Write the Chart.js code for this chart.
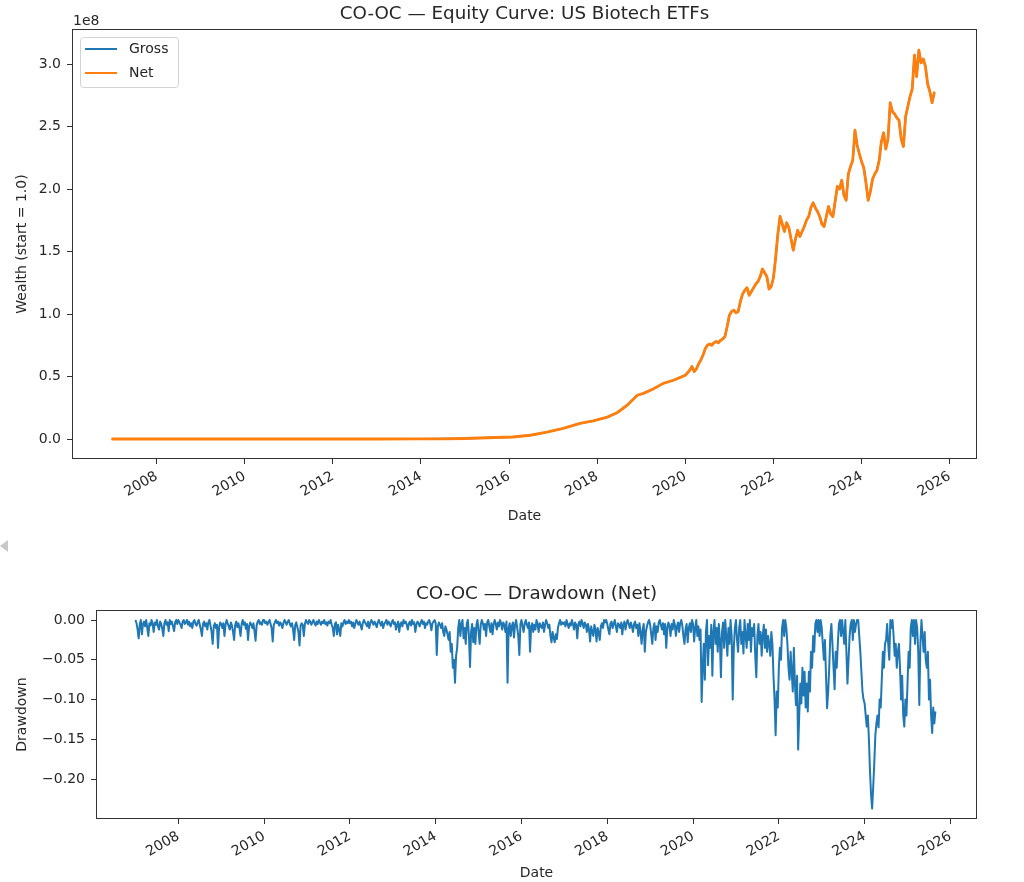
<!DOCTYPE html>
<html><head><meta charset="utf-8">
<script src="https://cdn.jsdelivr.net/npm/chart.js@4"></script>
<style>
html,body{margin:0;padding:0;background:#fff;width:1024px;height:882px;overflow:hidden;}
#c1{position:absolute;left:0;top:0;width:1024px;height:540px;}
#c2{position:absolute;left:0;top:540px;width:1024px;height:342px;}
#tri{position:absolute;left:0;top:540px;width:0;height:0;border-top:6px solid transparent;border-bottom:6px solid transparent;border-right:8px solid #c8c8c8;z-index:5;}
</style></head>
<body>
<canvas id="c1" width="1024" height="540"></canvas>
<canvas id="c2" width="1024" height="342"></canvas>
<div id="tri"></div>
<script>
// ---------- data ----------
const yearTicks = [2008, 2010, 2012, 2014, 2016, 2018, 2020, 2022, 2024, 2026];
const wealthTicks = [0, 0.5e8, 1.0e8, 1.5e8, 2.0e8, 2.5e8, 3.0e8];
const drawdownTicks = [0, -0.05, -0.10, -0.15, -0.20];

// equity curve, early part (irregular dates, decimal years)
const equityEarlyDates = [2007.00, 2008.0, 2009.0, 2010.0, 2011.0, 2012.0, 2013.0, 2014.0, 2014.5, 2015.0,
  2015.34, 2015.7, 2016.09, 2016.48, 2016.86, 2017.23, 2017.61, 2017.91, 2018.23, 2018.45,
  2018.68, 2018.91, 2019.05, 2019.27, 2019.5, 2019.73, 2019.9];
const netWealthEarly = [1, 4, 20, 100, 500, 2500, 1.2e4, 6e4, 1.5e5, 4e5,
  8e5, 1.2e6, 1.6e6, 3.0e6, 5.5e6, 8.5e6, 1.25e7, 1.45e7, 1.75e7, 2.1e7,
  2.7e7, 3.5e7, 3.65e7, 4.0e7, 4.45e7, 4.7e7, 4.95e7];
// equity curve, late part: one value every 0.05 year from 2020.00
const equityLateStart = 2020.0, equityLateStep = 0.05;
const netWealthLate = [
  0.51e8, 0.53e8, 0.55e8, 0.58e8, 0.54e8, 0.56e8, 0.60e8, 0.63e8, 0.67e8, 0.72e8,
  0.75e8, 0.76e8, 0.75e8, 0.77e8, 0.78e8, 0.77e8, 0.79e8, 0.80e8, 0.82e8, 0.90e8,
  0.99e8, 1.02e8, 1.03e8, 1.01e8, 1.02e8, 1.10e8, 1.16e8, 1.19e8, 1.21e8, 1.15e8,
  1.18e8, 1.21e8, 1.24e8, 1.26e8, 1.30e8, 1.36e8, 1.33e8, 1.30e8, 1.20e8, 1.22e8,
  1.29e8, 1.45e8, 1.64e8, 1.78e8, 1.72e8, 1.66e8, 1.73e8, 1.69e8, 1.60e8, 1.51e8,
  1.60e8, 1.67e8, 1.62e8, 1.66e8, 1.70e8, 1.75e8, 1.78e8, 1.85e8, 1.89e8, 1.85e8,
  1.82e8, 1.78e8, 1.72e8, 1.70e8, 1.78e8, 1.86e8, 1.80e8, 1.78e8, 1.90e8, 2.02e8,
  2.00e8, 2.07e8, 1.95e8, 1.91e8, 2.12e8, 2.18e8, 2.23e8, 2.47e8, 2.35e8, 2.28e8,
  2.22e8, 2.17e8, 2.05e8, 1.91e8, 1.98e8, 2.08e8, 2.12e8, 2.15e8, 2.23e8, 2.38e8,
  2.45e8, 2.32e8, 2.40e8, 2.69e8, 2.62e8, 2.60e8, 2.57e8, 2.55e8, 2.40e8, 2.34e8,
  2.58e8, 2.66e8, 2.74e8, 2.80e8, 3.07e8, 2.90e8, 3.11e8, 3.01e8, 3.04e8, 2.98e8,
  2.84e8, 2.78e8, 2.69e8, 2.77e8];

const equityDates = equityEarlyDates.concat(
  netWealthLate.map((_, i) => +(equityLateStart + i * equityLateStep).toFixed(3)));
const netWealth = netWealthEarly.concat(netWealthLate);
// gross curve lies underneath and is indistinguishable from net in the picture
const grossWealth = netWealth.slice();

// drawdown (net) in percent, one value every 0.025 year starting 2007.000
const ddStart = 2007.0, ddStep = 0.025;
const dd2007 = [0,-0.4,-1.2,-2.3,-0.6,0,-1.8,-0.5,-0.2,-0.8, 0,-1.0,-2.0,-0.4,-0.7,0,-0.5,-1.5,-0.3,-0.6, 0,-0.8,-1.2,-0.2,-0.5,-1.1,-2.0,-0.4,0,-0.6, -0.3,-1.4,0,-0.5,-0.2,-0.8,-1.4,-0.3,0,-0.5];
const dd2008 = [0,-0.3,-0.6,-1.0,-0.2,0,-0.5,-0.3,0,-0.6, -0.2,-0.8,-0.4,-1.0,-0.2,0,-0.5,-0.7,-0.3,0, -0.6,-1.2,-2.0,-0.5,-0.2,-0.8,-0.4,-1.2,-0.3,0, -0.7,-1.5,-3.0,-0.8,-0.4,-1.0,-0.6,-3.5,-0.9,-0.3];
const dd2009 = [-0.5,-1.0,-0.4,-2.0,-0.6,0,-0.4,-0.8,-1.2,-0.3, -0.7,-1.5,-2.5,-0.6,-0.2,-0.9,-0.4,-1.0,-2.0,-0.5, 0,-0.6,-0.3,-1.1,-0.5,-2.5,-0.8,-0.3,-0.6,-1.0, -0.4,-1.4,-2.6,-0.7,-0.2,0,-0.5,-0.3,-0.6,0];
const dd2010 = [0,-0.4,-0.2,-0.6,-0.3,0,-0.5,-1.0,-2.7,-0.6, -0.3,0,-0.4,-0.2,-0.7,-0.3,-0.5,-1.0,-0.4,0, -0.3,-0.6,-0.2,0,-0.5,-0.8,-0.4,-1.2,-2.5,-0.6, -0.3,-0.9,-1.5,-3.2,-0.7,-0.4,-0.6,-2.0,-0.5,0];
const dd2011 = [-0.3,-0.5,0,-0.2,-0.6,-0.3,0,-0.4,-0.7,-0.2, -0.5,0,-0.3,-0.6,-0.2,-0.4,0,-0.5,-0.3,-0.7, -0.2,-0.4,0,-0.6,-1.0,-2.0,-0.5,-0.3,-1.8,-0.6, -1.2,-2.0,-0.4,-0.8,-0.3,0,-0.5,-0.2,-0.4,0];
const dd2012 = [-0.4,-0.2,-0.8,-0.3,-1.0,-0.5,0,-0.3,-0.6,-0.2, -0.7,-1.2,-0.4,0,-0.3,-0.5,-0.8,-0.2,-1.0,-0.4, 0,-0.3,-0.6,-0.2,-0.5,-0.9,-0.3,0,-0.4,-0.7, -0.2,-1.0,-0.5,-0.3,0,-0.6,-0.2,-0.4,-0.8,-0.3];
const dd2013 = [0,-0.5,-0.3,-1.2,-0.6,-0.2,-1.5,-0.5,-0.3,-0.8, 0,-0.4,-0.2,-0.6,-1.2,-0.4,-0.2,-0.7,0,-0.5, -0.3,-1.5,-0.6,-0.2,-0.4,-0.8,-0.3,0,-0.5,-0.2, -1.0,-0.4,-0.6,-0.2,0,-0.5,-1.3,-0.4,-0.2,0];
const dd2014 = [-0.4,-4.4,-0.8,-0.3,-0.6,-1.0,-0.4,-1.5,-2.0,-0.8, -1.2,-1.8,-2.5,-1.5,-4.0,-3.0,-6.0,-5.0,-7.9,-4.5, -3.5,-1.0,0,-2.0,-0.5,0,-2.3,-1.0,-3.0,-0.4, 0,-2.0,-5.9,-1.5,-0.5,-2.8,-1.0,-3.0,-0.6,0];
const dd2015 = [-1.5,-3.0,-0.6,0,-0.4,-1.2,-0.5,-2.0,-0.3,0, -0.8,-1.5,-0.4,-1.8,-0.6,0,-0.5,-1.2,-0.3,-0.8, 0,-0.4,-1.2,-0.3,-0.6,-1.5,-0.2,-7.9,-1.0,-0.4, -2.0,-0.8,-0.3,-2.2,-0.6,0,-1.0,-2.0,-4.4,-0.5];
const dd2016 = [0,-0.8,-1.5,-0.4,0,-0.6,-1.0,-0.3,-4.0,-0.8, -0.4,-1.5,-0.6,-1.2,0,-0.5,-1.5,-0.4,-0.8,-1.0, -0.3,-1.5,-0.6,0,-0.4,-1.0,-0.6,-2.0,-2.8,-1.5, -2.2,-2.8,-1.8,-2.4,-1.0,-0.4,0,-0.6,-0.3,-0.5];
const dd2017 = [-0.3,-0.8,0,-0.5,-1.0,-0.4,-0.7,0,-0.5,-1.2, -0.3,-0.6,-2.3,-0.5,-0.2,-0.8,0,-0.4,-1.0,-0.3, -0.6,-1.5,-0.5,-1.2,-2.7,-0.8,-1.5,-2.0,-0.6,-1.2, -2.7,-1.0,-1.6,-2.5,-0.8,-0.4,-1.0,0,-0.3,0];
const dd2018 = [-0.5,-1.2,-1.8,-0.4,-0.2,-1.0,-0.5,0,-0.8,-1.5, -0.4,-0.6,-1.0,-0.3,-1.8,-0.6,-0.2,-1.2,-0.4,0, -0.5,-1.0,-0.3,-0.8,-1.5,-0.5,-0.2,-1.0,-0.6,-2.0, -0.4,-1.5,-3.0,-1.2,-0.5,-4.0,-1.5,-0.8,-0.3,0];
const dd2019 = [-0.6,-1.8,-3.0,-1.0,-0.4,-2.5,-0.8,-1.5,-0.3,0, -0.6,-1.2,-0.4,-1.8,-0.5,-3.5,-1.0,-0.3,-0.8,-2.0, -0.5,-1.2,0,-0.6,-2.0,-0.8,-0.3,-1.5,-0.4,0, -0.7,-2.0,-3.0,-1.2,-0.5,-2.8,-1.0,-0.4,-1.5,0];
const dd2020 = [-0.5,-2.7,-1.0,0,-2.0,-0.8,-2.5,-1.2,-10.3,-6.0, -3.0,-7.5,-1.5,0,-5.7,-2.0,-3.5,-0.6,-7.0,-1.5, 0,-3.0,-1.0,-4.0,-0.5,-2.5,-7.2,-1.5,-0.3,-3.5, 0,-2.0,-4.5,-1.0,-3.0,0,-2.0,-10.0,-3.5,-1.0];
const dd2021 = [0,-2.5,-4.0,-1.0,0,-3.0,-1.5,-4.2,0,-2.0, -3.5,-0.5,-2.5,0,-4.0,-1.0,-2.0,-0.5,-4.5,-7.2, -2.0,-0.5,-3.0,-1.5,-4.5,-2.0,-0.6,-3.5,-1.2,-4.0, -2.0,-3.0,-4.5,-1.5,-3.0,-7.0,-10.0,-14.5,-9.0,-11.0];
const dd2022 = [-6.0,-3.5,-5.0,-1.0,0,-2.0,0,-1.0,-3.0,-6.0, -7.5,-4.0,-6.5,-9.0,-3.5,-8.0,-10.7,-7.0,-16.3,-12.0, -8.0,-10.5,-6.0,-9.5,-6.5,-11.0,-8.0,-11.5,-6.5,-9.0, -4.0,-6.0,-2.0,-4.0,-0.5,0,-1.5,0,-2.0,0];
const dd2023 = [-1.0,-3.0,-5.0,-2.5,-7.0,-11.1,-9.0,-6.0,-2.0,-0.5, -3.0,-6.0,-8.7,-4.0,-6.0,-3.0,-0.5,0,-2.0,0, -1.5,-3.0,0,-4.0,-8.0,-5.0,-2.0,-0.5,0,-2.5, 0,-1.5,-0.5,0,0,-2.0,-4.0,-6.5,-9.0,-10.0];
const dd2024 = [-10.5,-12.0,-13.4,-12.0,-15.0,-19.0,-22.0,-23.7,-21.0,-18.0, -14.5,-13.0,-12.0,-13.5,-10.0,-11.0,-7.5,-4.0,-6.0,-3.0, -2.5,-0.5,-3.0,-5.0,0,-1.0,0,-2.0,-4.5,-3.0, -6.0,-4.0,-3.0,-6.0,-10.0,-7.0,-12.0,-13.4,-10.0,-12.0];
const dd2025 = [-8.0,-4.0,-6.0,-1.0,0,-2.0,0,-3.0,0,-1.0, -4.0,-10.7,-3.0,0,-2.0,-4.0,-1.5,-5.0,-6.0,-4.0, -10.0,-7.5,-12.0,-14.2,-11.0,-13.0,-11.5];

const drawdownPct = [].concat(dd2007, dd2008, dd2009, dd2010, dd2011, dd2012, dd2013, dd2014,
  dd2015, dd2016, dd2017, dd2018, dd2019, dd2020, dd2021, dd2022, dd2023, dd2024, dd2025);
const drawdownDates = drawdownPct.map((_, i) => +(ddStart + i * ddStep).toFixed(3));

// ---------- styling ----------
const FONT = 'DejaVu Sans';
const INK = '#262626';
const SPINE = '#333333';
const C_GROSS = '#1f77b4';
const C_NET = '#ff7f0e';

const framePlugin = {
  id: 'frame',
  afterDatasetsDraw(chart) {
    const {ctx, chartArea: a} = chart;
    ctx.save();
    ctx.strokeStyle = SPINE;
    ctx.lineWidth = 1;
    ctx.strokeRect(Math.round(a.left) + 0.5, Math.round(a.top) + 0.5,
      Math.round(a.right - a.left) - 1, Math.round(a.bottom - a.top) - 1);
    ctx.restore();
  }
};

const legendPlugin = {
  id: 'inlegend',
  afterDraw(chart) {
    const {ctx, chartArea: a} = chart;
    const x = a.left + 8, y = a.top + 8, w = 98, h = 50, r = 3;
    ctx.save();
    ctx.fillStyle = 'rgba(255,255,255,0.8)';
    ctx.strokeStyle = '#d3d3d3';
    ctx.lineWidth = 1;
    ctx.beginPath();
    ctx.roundRect(x + 0.5, y + 0.5, w, h, r);
    ctx.fill();
    ctx.stroke();
    const items = [['Gross', C_GROSS], ['Net', C_NET]];
    ctx.font = '14px "' + FONT + '"';
    ctx.textBaseline = 'middle';
    ctx.textAlign = 'left';
    items.forEach((it, i) => {
      const ly = y + 12 + i * 24;
      ctx.strokeStyle = it[1];
      ctx.lineWidth = 2;
      ctx.beginPath();
      ctx.moveTo(x + 5, ly);
      ctx.lineTo(x + 37, ly);
      ctx.stroke();
      ctx.fillStyle = INK;
      ctx.fillText(it[0], x + 49, ly);
    });
    ctx.restore();
  }
};

const offsetTextPlugin = {
  id: 'offsetText',
  afterDraw(chart) {
    const {ctx, chartArea: a} = chart;
    ctx.save();
    ctx.font = '14px "' + FONT + '"';
    ctx.fillStyle = INK;
    ctx.textAlign = 'left';
    ctx.textBaseline = 'alphabetic';
    ctx.fillText('1e8', a.left + 1, a.top - 4);
    ctx.restore();
  }
};

const tickFont = {family: FONT, size: 14};
const titleFont = {family: FONT, size: 18.3, weight: 'normal'};
const gridOpts = {display: true, drawOnChartArea: false, drawTicks: true, tickLength: 5, tickWidth: 1, tickColor: SPINE, color: SPINE};

function xScale(scaleHeight, titlePadBottom) {
  return {
    type: 'linear', min: 2006.08, max: 2026.62,
    afterBuildTicks: s => { s.ticks = yearTicks.map(v => ({value: v})); },
    afterFit: s => { s.height = scaleHeight; },
    ticks: {autoSkip: false, minRotation: 30, maxRotation: 30, padding: 4, color: INK, font: tickFont,
      callback: v => String(v)},
    grid: gridOpts,
    border: {display: false},
    title: {display: true, text: 'Date', color: INK, font: tickFont, padding: {top: 0, bottom: titlePadBottom}}
  };
}

Chart.defaults.font.family = FONT;

new Chart(document.getElementById('c1'), {
  type: 'line',
  data: {
    datasets: [
      {label: 'Gross', order: 2, data: equityDates.map((d, i) => ({x: d, y: grossWealth[i]})),
        borderColor: C_GROSS, borderWidth: 2, pointRadius: 0, tension: 0, fill: false,
        borderJoinStyle: 'round'},
      {label: 'Net', order: 1, data: equityDates.map((d, i) => ({x: d, y: netWealth[i]})),
        borderColor: C_NET, borderWidth: 2.8, pointRadius: 0, tension: 0, fill: false,
        borderJoinStyle: 'round', borderCapStyle: 'round'}
    ]
  },
  options: {
    responsive: false, animation: false, events: [],
    layout: {padding: {left: 0, right: 47, top: 0, bottom: 11}},
    plugins: {
      legend: {display: false}, tooltip: {enabled: false},
      title: {display: true, text: 'CO-OC — Equity Curve: US Biotech ETFs', fullSize: false,
        color: INK, font: titleFont, padding: {top: 3.5, bottom: 3.54}}
    },
    scales: {
      x: xScale(70, 4.6),
      y: {
        type: 'linear', min: -0.16e8, max: 3.28e8,
        afterBuildTicks: s => { s.ticks = wealthTicks.map(v => ({value: v})); },
        afterFit: s => { s.width = 72; },
        ticks: {padding: 6, color: INK, font: tickFont, callback: v => (v / 1e8).toFixed(1)},
        grid: gridOpts,
        border: {display: false},
        title: {display: true, text: 'Wealth (start = 1.0)', color: INK, font: tickFont, padding: {top: 13.6, bottom: 0}}
      }
    }
  },
  plugins: [framePlugin, legendPlugin, offsetTextPlugin]
});

new Chart(document.getElementById('c2'), {
  type: 'line',
  data: {
    datasets: [
      {label: 'Drawdown (Net)', data: drawdownDates.map((d, i) => ({x: d, y: drawdownPct[i] / 100})),
        borderColor: C_GROSS, borderWidth: 2, pointRadius: 0, tension: 0, fill: false,
        borderJoinStyle: 'round'}
    ]
  },
  options: {
    responsive: false, animation: false, events: [],
    layout: {padding: {left: 0, right: 47, top: 0, bottom: 0}},
    plugins: {
      legend: {display: false}, tooltip: {enabled: false},
      title: {display: true, text: 'CO-OC — Drawdown (Net)', fullSize: false,
        color: INK, font: titleFont, padding: {top: 43.0, bottom: 5.04}}
    },
    scales: {
      x: xScale(63, 0.6),
      y: {
        type: 'linear', min: -0.2503, max: 0.0126,
        afterBuildTicks: s => { s.ticks = drawdownTicks.map(v => ({value: v})); },
        afterFit: s => { s.width = 96; },
        ticks: {padding: 6, color: INK, font: tickFont,
          callback: v => (Math.abs(v) < 1e-9 ? '0.00' : (v < 0 ? '\u2212' : '') + Math.abs(v).toFixed(2))},
        grid: gridOpts,
        border: {display: false},
        title: {display: true, text: 'Drawdown', color: INK, font: tickFont, padding: {top: 13.6, bottom: 0}}
      }
    }
  },
  plugins: [framePlugin]
});
</script>
</body></html>
